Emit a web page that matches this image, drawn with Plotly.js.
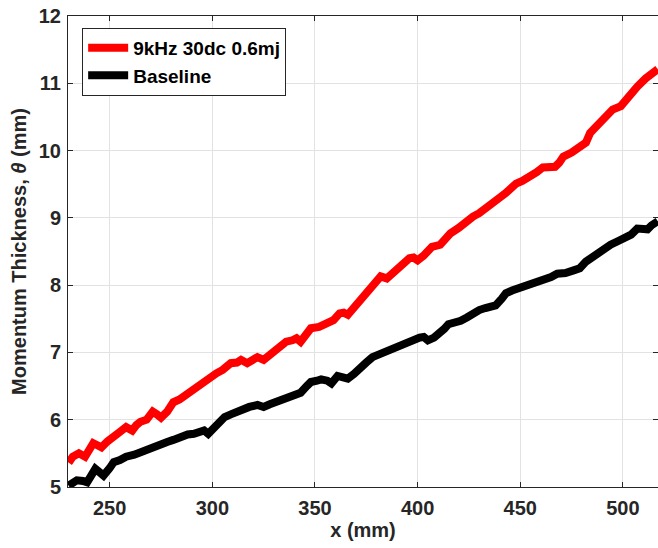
<!DOCTYPE html>
<html>
<head>
<meta charset="utf-8">
<script src="https://cdn.plot.ly/plotly-3.0.1.min.js"></script>
<style>
  html, body { margin: 0; padding: 0; background: #fff; overflow: hidden; }
  #chart { width: 658px; height: 548px; }
</style>
</head>
<body>
<div id="chart"></div>
<script>
// ---- Data ----
const seriesNames = ["9kHz 30dc 0.6mj", "Baseline"];

const xForced = [230,232,235,238,240,242,244,246,249,252,255,258,261,263,265,268,271,273,275,278,
  281,284,288,291,294,298,302,305,309,312,314,317,320,322,325,328,330,333,336,339,341,343,346,348,
  352,355,359,362,364,366,369,372,375,377,380,382,385,388,391,394,396,398,400,403,405,407,411,413,
  416,420,424,427,430,433,436,440,443,446,448,451,455,458,461,464,467,469,471,475,479,482,484,487,
  491,495,499,503,507,511,515,517];
const yForced = [5.36,5.45,5.50,5.45,5.55,5.65,5.62,5.59,5.68,5.77,5.82,5.89,5.84,5.92,5.97,6.00,6.12,6.08,6.03,6.12,
  6.26,6.30,6.39,6.45,6.53,6.60,6.69,6.74,6.84,6.85,6.89,6.84,6.91,6.93,6.89,6.96,7.01,7.09,7.16,7.18,7.21,7.16,7.28,7.36,
  7.38,7.42,7.48,7.58,7.59,7.56,7.66,7.78,7.88,7.95,8.06,8.13,8.10,8.18,8.27,8.33,8.40,8.41,8.37,8.44,8.49,8.57,8.60,8.68,
  8.77,8.85,8.97,9.02,9.07,9.15,9.22,9.30,9.37,9.45,9.51,9.55,9.61,9.68,9.75,9.76,9.76,9.82,9.91,9.97,10.04,10.12,10.26,10.36,
  10.48,10.61,10.66,10.82,10.95,11.07,11.18,11.21];

const xBase = [230,232,234,237,239,241,243,245,247,250,252,255,258,262,265,268,271,275,278,281,
  284,288,291,294,296,298,301,303,306,309,312,315,318,322,325,328,331,334,338,341,343,346,348,351,
  353,356,358,361,363,366,369,372,375,378,381,384,388,391,394,397,401,403,405,408,410,413,415,418,
  421,424,427,430,433,436,438,441,443,446,450,453,456,459,462,465,468,472,476,479,482,486,490,494,
  498,501,504,507,510,512,514,517];
const yBase = [5.02,5.07,5.10,5.09,5.07,5.17,5.27,5.22,5.17,5.28,5.37,5.40,5.45,5.48,5.52,5.55,5.60,5.63,5.67,5.70,
  5.74,5.78,5.79,5.82,5.84,5.79,5.88,5.97,6.04,6.08,6.12,6.17,6.19,6.22,6.19,6.23,6.26,6.30,6.34,6.37,6.40,6.50,6.56,6.58,
  6.60,6.58,6.54,6.65,6.64,6.61,6.68,6.78,6.85,6.93,6.97,6.99,7.04,7.11,7.14,7.16,7.22,7.23,7.18,7.22,7.26,7.35,7.42,7.44,
  7.47,7.52,7.58,7.63,7.66,7.68,7.70,7.80,7.88,7.92,7.96,8.00,8.00,8.05,8.09,8.12,8.17,8.18,8.22,8.25,8.35,8.44,8.54,8.60,
  8.66,8.71,8.75,8.84,8.84,8.83,8.89,8.95];

const xTicks = [250, 300, 350, 400, 450, 500];
const yTicks = [5, 6, 7, 8, 9, 10, 11, 12];

// ---- Styling ----
const FONT = "Liberation Sans, Arial, Helvetica, sans-serif";
const INK = "#262626";

const traces = [
  { x: xForced, y: yForced, name: seriesNames[0], type: "scatter", mode: "lines",
    line: { color: "#ff0000", width: 8 } },
  { x: xBase, y: yBase, name: seriesNames[1], type: "scatter", mode: "lines",
    line: { color: "#000000", width: 8 } }
];

const axisCommon = {
  showline: true, linecolor: INK, linewidth: 1, mirror: "ticks",
  ticks: "inside", ticklen: 5, tickwidth: 1, tickcolor: INK,
  showgrid: true, gridcolor: "#e2e2e2", gridwidth: 1,
  zeroline: false,
  tickfont: { family: FONT, size: 20, color: INK, weight: "bold" },
  tickmode: "array"
};

const layout = {
  width: 658, height: 548,
  margin: { l: 68, r: 0, t: 16, b: 61 },
  paper_bgcolor: "#ffffff", plot_bgcolor: "#ffffff",
  font: { family: FONT, color: INK },
  showlegend: true,
  legend: {
    x: 0.024, y: 0.975, xanchor: "left", yanchor: "top",
    bgcolor: "#ffffff", bordercolor: INK, borderwidth: 1,
    font: { family: FONT, size: 19, color: "#000000", weight: "bold" },
    itemwidth: 40, tracegroupgap: 0
  },
  xaxis: Object.assign({}, axisCommon, {
    range: [229.7, 517.1], tickvals: xTicks, ticktext: xTicks.map(String),
    ticklabelstandoff: 3,
    title: { text: "x (mm)", font: { family: FONT, size: 20, color: INK, weight: "bold" }, standoff: 3 }
  }),
  yaxis: Object.assign({}, axisCommon, {
    range: [5, 12], tickvals: yTicks, ticktext: yTicks.map(String),
    ticklabelstandoff: 2,
    title: { text: "Momentum Thickness, <i>θ</i> (mm)", font: { family: FONT, size: 20, color: INK, weight: "bold" }, standoff: 6 }
  })
};

Plotly.newPlot("chart", traces, layout, { displayModeBar: false, staticPlot: true });
</script>
</body>
</html>
